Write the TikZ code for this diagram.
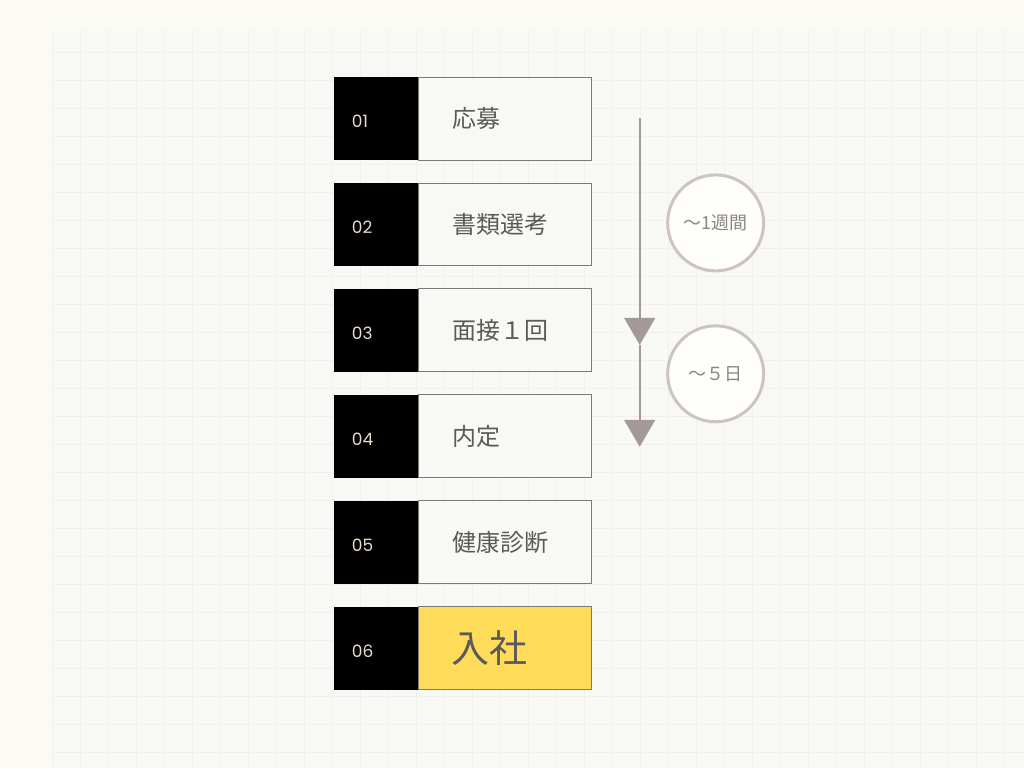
\documentclass[tikz,border=0pt]{standalone}
\usepackage{fontspec}
\newfontfamily\jpfont{Noto Sans CJK JP}
\newfontfamily\numfont{Poppins}
\usetikzlibrary{arrows.meta,positioning}
\definecolor{paper}{HTML}{FBFBF3}
\definecolor{gridfill}{HTML}{F8F8F4}
\definecolor{gridline}{HTML}{F0F0EC}
\definecolor{boxline}{HTML}{7A7A78}
\definecolor{steptext}{HTML}{5A5A5A}
\definecolor{numtext}{HTML}{E8DCD0}
\definecolor{flowcol}{HTML}{A39A98}
\definecolor{ringcol}{HTML}{CDC5BD}
\definecolor{ringtext}{HTML}{8A8482}
\definecolor{joinyellow}{HTML}{FEDC5A}
\begin{document}
\begin{tikzpicture}[x=1pt, y=-1pt,
    numbox/.style={fill=black, minimum height=83pt, text width=48pt, inner xsep=18pt,
      text height=19pt, text depth=0pt, align=left, text=numtext,
      font=\numfont\fontsize{17}{17}\selectfont},
    stepbox/.style={draw=boxline, line width=0.8pt, fill=gridfill, minimum height=83pt,
      text width=105pt, inner xsep=34pt, align=left, text=steptext,
      font=\jpfont\fontsize{24}{24}\selectfont},
    waitring/.style={circle, draw=ringcol, line width=3pt, fill=white!70!paper,
      minimum size=96pt, inner sep=0pt, text=ringtext, font=\jpfont\fontsize{18}{18}\selectfont},
    flow/.style={draw=flowcol, line width=2pt, -{Triangle[width=31pt,length=27pt]}}]

  % 1. Fundo com papel quadriculado
  \fill[paper] (0,0) rectangle (1024,768);
  \fill[gridfill] (52,30) rectangle (1024,768);
  \foreach \gx in {53,81,...,1024}
    \draw[gridline, line width=1pt] (\gx,30) -- (\gx,768);
  \foreach \gy in {53,81,...,768}
    \draw[gridline, line width=1pt] (52,\gy) -- (1024,\gy);

  % 2. Etapas do processo, uma linha a cada 106pt
  \foreach \n/\txt [count=\i from 0] in {01/応募,02/書類選考,03/面接１回,04/内定,05/健康診断} {
    \node[numbox] (n\n) at (376,118.5+106*\i) {\n};
    \node[stepbox, right=0pt of n\n] (s\n) {\txt};   % caixa do texto colada ao número
  }
  \node[numbox] (n06) at (376,648.5) {06};
  \node[stepbox, right=0pt of n06, fill=joinyellow, font=\jpfont\fontsize{38}{38}\selectfont,
    text width=107pt, inner xsep=33pt] (s06) {入社};

  % 3. Linha do tempo com as setas
  \coordinate (flowtop) at (640,118);
  \coordinate (tip1) at (640,345);
  \coordinate (tip2) at (640,447);
  \draw[flow] (flowtop) -- (tip1);
  \draw[flow] (tip1) -- (tip2);

  \node[waitring] (w1) at (716,223) {～1週間};
  \node[waitring] (w2) at (716,374) {～５日};
\end{tikzpicture}
\end{document}
